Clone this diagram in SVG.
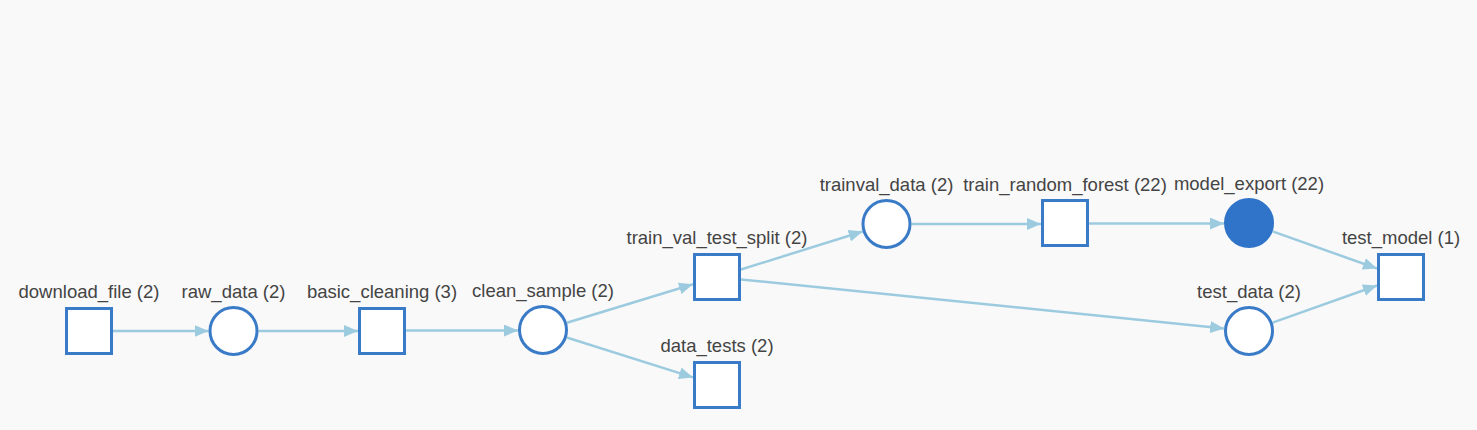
<svg xmlns="http://www.w3.org/2000/svg" width="1477" height="430" viewBox="0 0 1477 430">
<style>
.bg{fill:#f9f9f9}
.sq{fill:#ffffff;stroke:#3a7bc8;stroke-width:3}
.ci{fill:#ffffff;stroke:#3a7bc8;stroke-width:3}
.cf{fill:#2f74c8;stroke:#2f74c8;stroke-width:3}
.lbl{font-family:"Liberation Sans",Arial,sans-serif;font-size:18.5px;fill:#444444;text-anchor:middle}
.edge{stroke:#9ccbe0;stroke-width:2.5;fill:none;marker-end:url(#arr)}
</style>
<defs>
<marker id="arr" markerUnits="userSpaceOnUse" markerWidth="14" markerHeight="12" viewBox="0 0 14 12" refX="14" refY="6" orient="auto">
<path d="M0,0 L14,6 L0,12 z" fill="#9ccbe0"/>
</marker>
</defs>
<rect class="bg" x="0" y="0" width="1477" height="430"/>
<g id="connectors">
<line class="edge" x1="113" y1="331" x2="208.5" y2="331"/>
<line class="edge" x1="258.5" y1="331" x2="358" y2="331"/>
<line class="edge" x1="406" y1="330.5" x2="518" y2="330.5"/>
<line class="edge" x1="566.9" y1="322.7" x2="693" y2="284.3"/>
<line class="edge" x1="566.8" y1="337.5" x2="693" y2="377.4"/>
<line class="edge" x1="741" y1="269.5" x2="862.6" y2="231.5"/>
<line class="edge" x1="741" y1="279.4" x2="1224.1" y2="328.5"/>
<line class="edge" x1="911.5" y1="224" x2="1041" y2="224"/>
<line class="edge" x1="1089" y1="223.5" x2="1224" y2="223.5"/>
<line class="edge" x1="1272.6" y1="231.4" x2="1377" y2="268.5"/>
<line class="edge" x1="1272.6" y1="322.6" x2="1377" y2="285.5"/>
</g>
<g id="download_file">
<rect class="sq" x="66.5" y="308.5" width="45" height="45"/>
<text class="lbl" x="89" y="298">download_file (2)</text>
</g>
<g id="raw_data">
<circle class="ci" cx="233.5" cy="331" r="23.5"/>
<text class="lbl" x="233.5" y="298">raw_data (2)</text>
</g>
<g id="basic_cleaning">
<rect class="sq" x="359.5" y="308.5" width="45" height="45"/>
<text class="lbl" x="382" y="298">basic_cleaning (3)</text>
</g>
<g id="clean_sample">
<circle class="ci" cx="543" cy="330" r="23.5"/>
<text class="lbl" x="543" y="297">clean_sample (2)</text>
</g>
<g id="train_val_test_split">
<rect class="sq" x="694.5" y="254.5" width="45" height="45"/>
<text class="lbl" x="717" y="244">train_val_test_split (2)</text>
</g>
<g id="data_tests">
<rect class="sq" x="694.5" y="362.5" width="45" height="45"/>
<text class="lbl" x="717" y="352">data_tests (2)</text>
</g>
<g id="trainval_data">
<circle class="ci" cx="886.5" cy="224" r="23.5"/>
<text class="lbl" x="886.5" y="191">trainval_data (2)</text>
</g>
<g id="train_random_forest">
<rect class="sq" x="1042.5" y="200.5" width="45" height="45"/>
<text class="lbl" x="1065" y="191">train_random_forest (22)</text>
</g>
<g id="model_export">
<circle class="cf" cx="1249" cy="223" r="23.5"/>
<text class="lbl" x="1249" y="190">model_export (22)</text>
</g>
<g id="test_model">
<rect class="sq" x="1378.5" y="254.5" width="45" height="45"/>
<text class="lbl" x="1401" y="244">test_model (1)</text>
</g>
<g id="test_data">
<circle class="ci" cx="1249" cy="331" r="23.5"/>
<text class="lbl" x="1249" y="298">test_data (2)</text>
</g>
</svg>
